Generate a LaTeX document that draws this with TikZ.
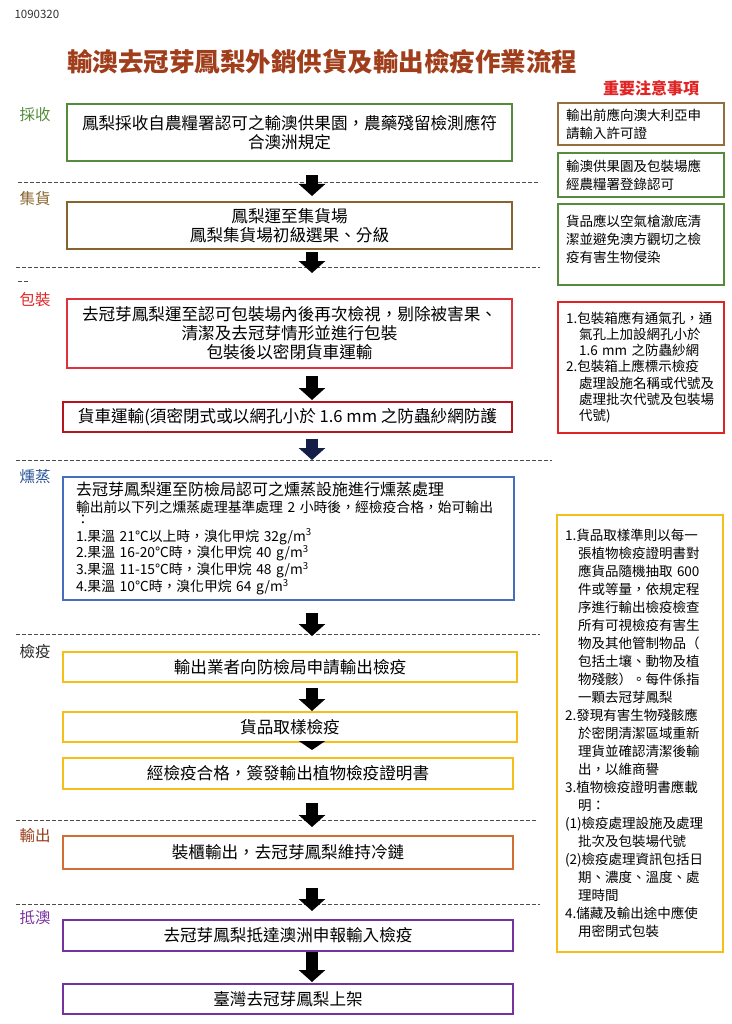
\documentclass[tikz,border=0pt]{standalone}
\usepackage{fontspec}
\setmainfont{Noto Sans CJK TC}
\usepackage{xcolor}
\usepackage{tikz}
\usetikzlibrary{arrows.meta,positioning}

\definecolor{ctitle}{RGB}{160,62,28}
\definecolor{cred}{RGB}{224,36,36}
\definecolor{cgreen}{RGB}{84,140,60}
\definecolor{cbrown}{RGB}{135,100,45}
\definecolor{cnote}{RGB}{150,110,60}
\definecolor{cpack}{RGB}{222,50,62}
\definecolor{ctruck}{RGB}{180,22,32}
\definecolor{cblue}{RGB}{70,110,190}
\definecolor{cbluetxt}{RGB}{45,85,150}
\definecolor{cyellow}{RGB}{245,190,25}
\definecolor{corange}{RGB}{210,110,50}
\definecolor{cexport}{RGB}{150,60,25}
\definecolor{cpurple}{RGB}{120,50,160}
\definecolor{cnavy}{RGB}{20,30,70}

\newcommand{\noteind}{\hspace*{13pt}}

\begin{document}
\begin{tikzpicture}
  [
    x=1pt, y=-1pt,
    Box/.style={rectangle, draw, line width=2pt, fill=white, align=center, inner sep=0pt, font=\fontsize{16.6}{19}\selectfont},
    Note/.style={rectangle, draw, line width=1.6pt, align=left, text width=150pt, inner xsep=8pt, inner ysep=0pt, font=\fontsize{13.5}{18}\selectfont},
    Stage/.style={anchor=west, font=\fontsize{15.5}{16}\selectfont},
    Sep/.style={draw=black!70, line width=1pt, dash pattern=on 4pt off 2pt},
    Big/.style={line width=12pt, -{Triangle[width=26pt,length=12pt]}}
  ]
  \useasboundingbox (0,0) rectangle (731,1024);

  % Heading
  \node[anchor=west, font=\fontsize{11.5}{12}\selectfont, text=black!80] (date) at (11,14) {1090320};
  \node[font=\bfseries\fontsize{25.5}{27}\selectfont, text=ctitle] (title) at (322,62) {輸澳去冠芽鳳梨外銷供貨及輸出檢疫作業流程};
  \node[font=\bfseries\fontsize{16}{18}\selectfont, text=cred] (notes) at (651,88) {重要注意事項};

  % Stages
  \node[Stage, text=cgreen] (s1) at (16,115) {採收};
  \node[Stage, text=cbrown] (s2) at (16,199) {集貨};
  \node[Stage, text=cred] (s3) at (16,300) {包裝};
  \node[Stage, text=cbluetxt] (s4) at (16,477) {燻蒸};
  \node[Stage, text=black!85] (s5) at (16,652) {檢疫};
  \node[Stage, text=cexport] (s6) at (16,836) {輸出};
  \node[Stage, text=cpurple] (s7) at (16,918) {抵澳};

  % Separators
  \draw[Sep] (18,183) -- (540,183);
  \draw[Sep] (16,267) -- (540,267);
  \draw[Sep] (18,281) -- (30,281);
  \draw[Sep] (16,460) -- (552,460);
  \draw[Sep] (16,634) -- (540,634);
  \draw[Sep] (16,820) -- (537,820);
  \draw[Sep] (16,904) -- (540,904);

  % Steps
  \node[Box, draw=cgreen, minimum width=445pt, minimum height=57pt] (b1) at (289.5,132.5) {鳳梨採收自農糧署認可之輸澳供果園，農藥殘留檢測應符\\合澳洲規定};
  \node[Box, draw=cbrown, minimum width=445pt, minimum height=47pt] (b2) at (289.5,225.5) {鳳梨運至集貨場\\鳳梨集貨場初級選果、分級};
  \node[Box, draw=cpack, minimum width=445pt, minimum height=69pt] (b3) at (289.5,333.5) {去冠芽鳳梨運至認可包裝場內後再次檢視，剔除被害果、\\清潔及去冠芽情形並進行包裝\\包裝後以密閉貨車運輸};
  \node[Box, draw=ctruck, minimum width=449pt, minimum height=30pt] (b4) at (287.5,417) {貨車運輸(須密閉式或以網孔小於 1.6 mm 之防蟲紗網防護};
  \node[Box, draw=cblue, minimum width=451pt, minimum height=123pt, text width=425pt, align=left, font=\fontsize{13.8}{14.5}\selectfont] (b5) at (288.5,538.5)
    {{\fontsize{16}{14.5}\selectfont 去冠芽鳳梨運至防檢局認可之燻蒸設施進行燻蒸處理}\\[2pt]
     輸出前以下列之燻蒸處理基準處理 2 小時後，經檢疫合格，始可輸出\\[-2.5pt]
     ：\\[2.5pt]
     1.果溫 21℃以上時，溴化甲烷 32g/m\textsuperscript{3}\\
     2.果溫 16-20℃時，溴化甲烷 40 g/m\textsuperscript{3}\\
     3.果溫 11-15℃時，溴化甲烷 48 g/m\textsuperscript{3}\\[0.5pt]
     4.果溫 10℃時，溴化甲烷 64 g/m\textsuperscript{3}};
  \node[Box, draw=cyellow, minimum width=454pt, minimum height=30pt] (b6) at (290,667) {輸出業者向防檢局申請輸出檢疫};
  \node[Box, draw=cyellow, minimum width=454pt, minimum height=30pt] (b7) at (290,727) {貨品取樣檢疫};
  \node[Box, draw=cyellow, minimum width=450pt, minimum height=31pt] (b8) at (288,773.5) {經檢疫合格，簽發輸出植物檢疫證明書};
  \node[Box, draw=corange, minimum width=450pt, minimum height=33pt] (b9) at (288,852.5) {裝櫃輸出，去冠芽鳳梨維持冷鏈};
  \node[Box, draw=cpurple, minimum width=450pt, minimum height=31pt] (b10) at (288,935.5) {去冠芽鳳梨抵達澳洲申報輸入檢疫};
  \node[Box, draw=cpurple, minimum width=450pt, minimum height=30pt] (b11) at (288,999) {臺灣去冠芽鳳梨上架};

  % Notes
  \node[Note, draw=cnote, minimum height=42pt] (n1) at (641,124) {輸出前應向澳大利亞申\\請輸入許可證};
  \node[Note, draw=cgreen, minimum height=44pt] (n2) at (641,175) {輸澳供果園及包裝場應\\經農糧署登錄認可};
  \node[Note, draw=cgreen, minimum height=81pt] (n3) at (641,244.5) {};
  \node[anchor=north west, align=left, inner sep=0pt, font=\fontsize{13.5}{18}\selectfont] (n3text) at (566,215) {貨品應以空氣槍澈底清\\潔並避免澳方觀切之檢\\疫有害生物侵染};
  \node[Note, draw=cred, minimum height=131pt, font=\fontsize{13.5}{16.3}\selectfont] (n4) at (641,367.5)
    {1.包裝箱應有通氣孔，通\\
     \noteind 氣孔上加設網孔小於\\
     \noteind 1.6 mm 之防蟲紗網\\
     2.包裝箱上應標示檢疫\\
     \noteind 處理設施名稱或代號及\\
     \noteind 處理批次代號及包裝場\\
     \noteind 代號)};
  \node[Note, draw=cyellow, minimum height=437pt] (n5) at (640,733.5)
    {1.貨品取樣準則以每一\\
     \noteind 張植物檢疫證明書對\\
     \noteind 應貨品隨機抽取 600\\
     \noteind 件或等量，依規定程\\
     \noteind 序進行輸出檢疫檢查\\
     \noteind 所有可視檢疫有害生\\
     \noteind 物及其他管制物品（\\
     \noteind 包括土壤、動物及植\\
     \noteind 物殘骸）。每件係指\\
     \noteind 一顆去冠芽鳳梨\\
     2.發現有害生物殘骸應\\
     \noteind 於密閉清潔區域重新\\
     \noteind 理貨並確認清潔後輸\\
     \noteind 出，以維商譽\\
     3.植物檢疫證明書應載\\
     \noteind 明：\\
     (1)檢疫處理設施及處理\\
     \noteind 批次及包裝場代號\\
     (2)檢疫處理資訊包括日\\
     \noteind 期、濃度、溫度、處\\
     \noteind 理時間\\
     4.儲藏及輸出途中應使\\
     \noteind 用密閉式包裝};

  % Arrows
  \coordinate (ax) at (312,0);
  \draw[Big, shorten <=13pt, shorten >=5pt] (b1.south -| ax) -- (b2.north -| ax);
  \draw[Big, shorten <=2pt, shorten >=25pt] (b2.south -| ax) -- (b3.north -| ax);
  \draw[Big, shorten <=7pt, shorten >=1pt] (b3.south -| ax) -- (b4.north -| ax);
  \draw[Big, draw=cnavy, shorten <=6pt, shorten >=16pt] (b4.south -| ax) -- (b5.north -| ax);
  \draw[Big, shorten <=12pt, shorten >=15pt] (b5.south -| ax) -- (b6.north -| ax);
  \draw[Big, shorten <=5pt] (b6.south -| ax) -- (b7.north -| ax);
  \draw[line width=12pt, -{Triangle[width=26pt,length=9pt]}, shorten >=7pt] (b7.south -| ax) -- (b8.north -| ax);
  \draw[Big, shorten <=13pt, shorten >=8pt] (b8.south -| ax) -- (b9.north -| ax);
  \draw[Big, shorten <=18pt, shorten >=8pt] (b9.south -| ax) -- (b10.north -| ax);
  \draw[Big, shorten >=1pt] (b10.south -| ax) -- (b11.north -| ax);

\end{tikzpicture}
\end{document}
